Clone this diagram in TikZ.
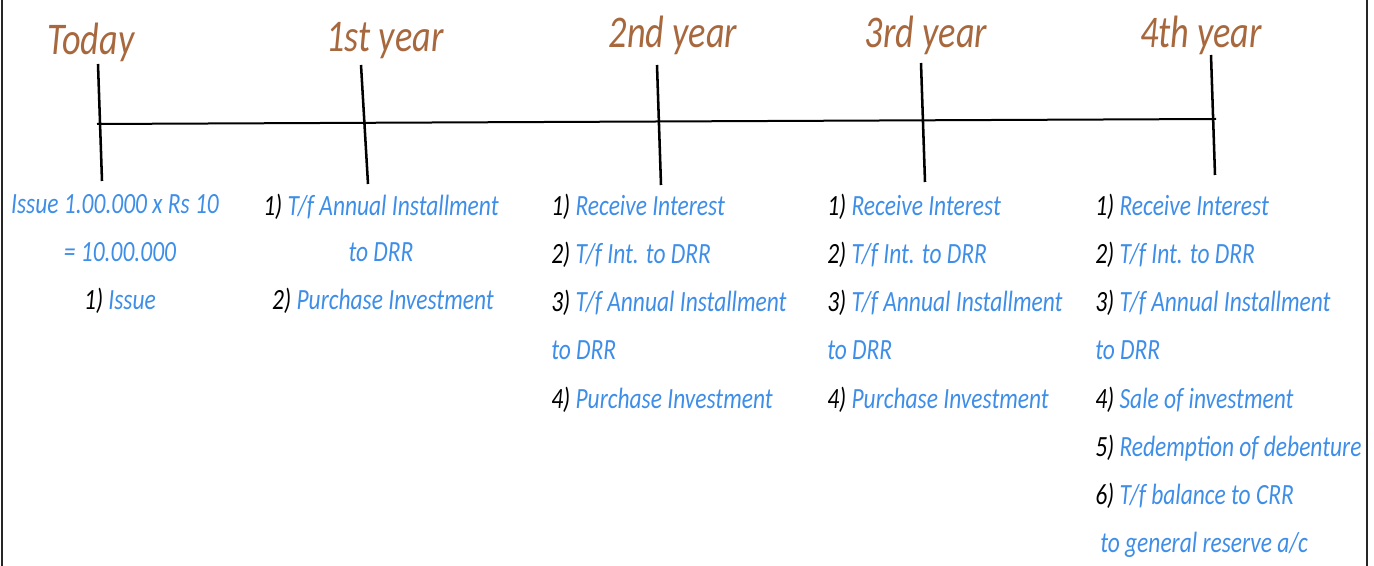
\documentclass[tikz,border=0pt]{standalone}
\usepackage{fontspec}
\setmainfont{Carlito}[FakeStretch=0.8]
\usetikzlibrary{positioning}
\definecolor{yearbrown}{RGB}{168,104,62}
\definecolor{noteblue}{RGB}{62,142,232}
\tikzset{
    year/.style={text=yearbrown, font=\itshape\fontsize{34}{36}\selectfont, anchor=base, inner sep=0pt}, % year headings
    note/.style={text=noteblue, font=\itshape\fontsize{22}{24}\selectfont, anchor=base west, inner sep=0pt}, % entries
    cnote/.style={note, anchor=base}, % centred entries
    tickline/.style={line width=1.9pt},
    axisline/.style={line width=1.5pt},
    frameline/.style={line width=2.2pt, black!85},
}
\newcommand{\stepno}[1]{\textcolor{black}{#1)}\ }

\begin{document}
\begin{tikzpicture}[x=0.75pt, y=-0.75pt]
    \useasboundingbox (0,0) rectangle (1374,566);
    % side frame
    \draw[frameline] (2,0) -- (2,566);
    \draw[frameline] (1367,0) -- (1367,566);

    % tick ends
    \coordinate (t0) at (98,64);    \coordinate (b0) at (102,181);
    \coordinate (t1) at (361,65);   \coordinate (b1) at (368,184);
    \coordinate (t2) at (657,65);   \coordinate (b2) at (661,185);
    \coordinate (t3) at (921,63);   \coordinate (b3) at (925,182);
    \coordinate (t4) at (1211,55);  \coordinate (b4) at (1215,175);
    \coordinate (ax0) at (97,124);  \coordinate (ax4) at (1216,119);

    % time line
    \draw[axisline] (ax0) -- (ax4);
    \draw[tickline] (t0) -- (b0);
    \draw[tickline] (t1) -- (b1);
    \draw[tickline] (t2) -- (b2);
    \draw[tickline] (t3) -- (b3);
    \draw[tickline] (t4) -- (b4);

    % headings
    \node[year] (today) at (91,55) {Today};
    \node[year] (y1) at (385,52) {1st year};
    \node[year] (y2) at (673,48) {2nd year};
    \node[year] (y3) at (926,48) {3rd year};
    \node[year] (y4) at (1201,48) {4th year};

    % today
    \node[cnote] (c0a) at (115,214) {Issue 1.00.000 x Rs 10};
    \node[cnote] (c0b) at (120,262) {= 10.00.000};
    \node[cnote] (c0c) at (120,310) {\stepno{1}Issue};

    % 1st year
    \node[cnote] (c1a) at (381,216) {\stepno{1}T/f Annual Installment};
    \node[cnote] (c1b) at (381,262) {to DRR};
    \node[cnote] (c1c) at (383,310) {\stepno{2}Purchase Investment};

    % 2nd year
    \node[note] (c2a) at (551,216) {\stepno{1}Receive Interest};
    \node[note] (c2b) at (551,264) {\stepno{2}T/f Int. to DRR};
    \node[note] (c2c) at (551,312) {\stepno{3}T/f Annual Installment};
    \node[note] (c2d) at (551,360) {to DRR};
    \node[note] (c2e) at (551,408) {\stepno{4}Purchase Investment};

    % 3rd year
    \node[note] (c3a) at (827,216) {\stepno{1}Receive Interest};
    \node[note] (c3b) at (827,264) {\stepno{2}T/f Int. to DRR};
    \node[note] (c3c) at (827,312) {\stepno{3}T/f Annual Installment};
    \node[note] (c3d) at (827,360) {to DRR};
    \node[note] (c3e) at (827,408) {\stepno{4}Purchase Investment};

    % 4th year
    \node[note] (c4a) at (1095,216) {\stepno{1}Receive Interest};
    \node[note] (c4b) at (1095,264) {\stepno{2}T/f Int. to DRR};
    \node[note] (c4c) at (1095,312) {\stepno{3}T/f Annual Installment};
    \node[note] (c4d) at (1095,360) {to DRR};
    \node[note] (c4e) at (1095,408) {\stepno{4}Sale of investment};
    \node[note] (c4f) at (1095,456) {\stepno{5}Redemption of debenture};
    \node[note] (c4g) at (1095,504) {\stepno{6}T/f balance to CRR};
    \node[note] (c4h) at (1100,552) {to general reserve a/c};
\end{tikzpicture}
\end{document}
